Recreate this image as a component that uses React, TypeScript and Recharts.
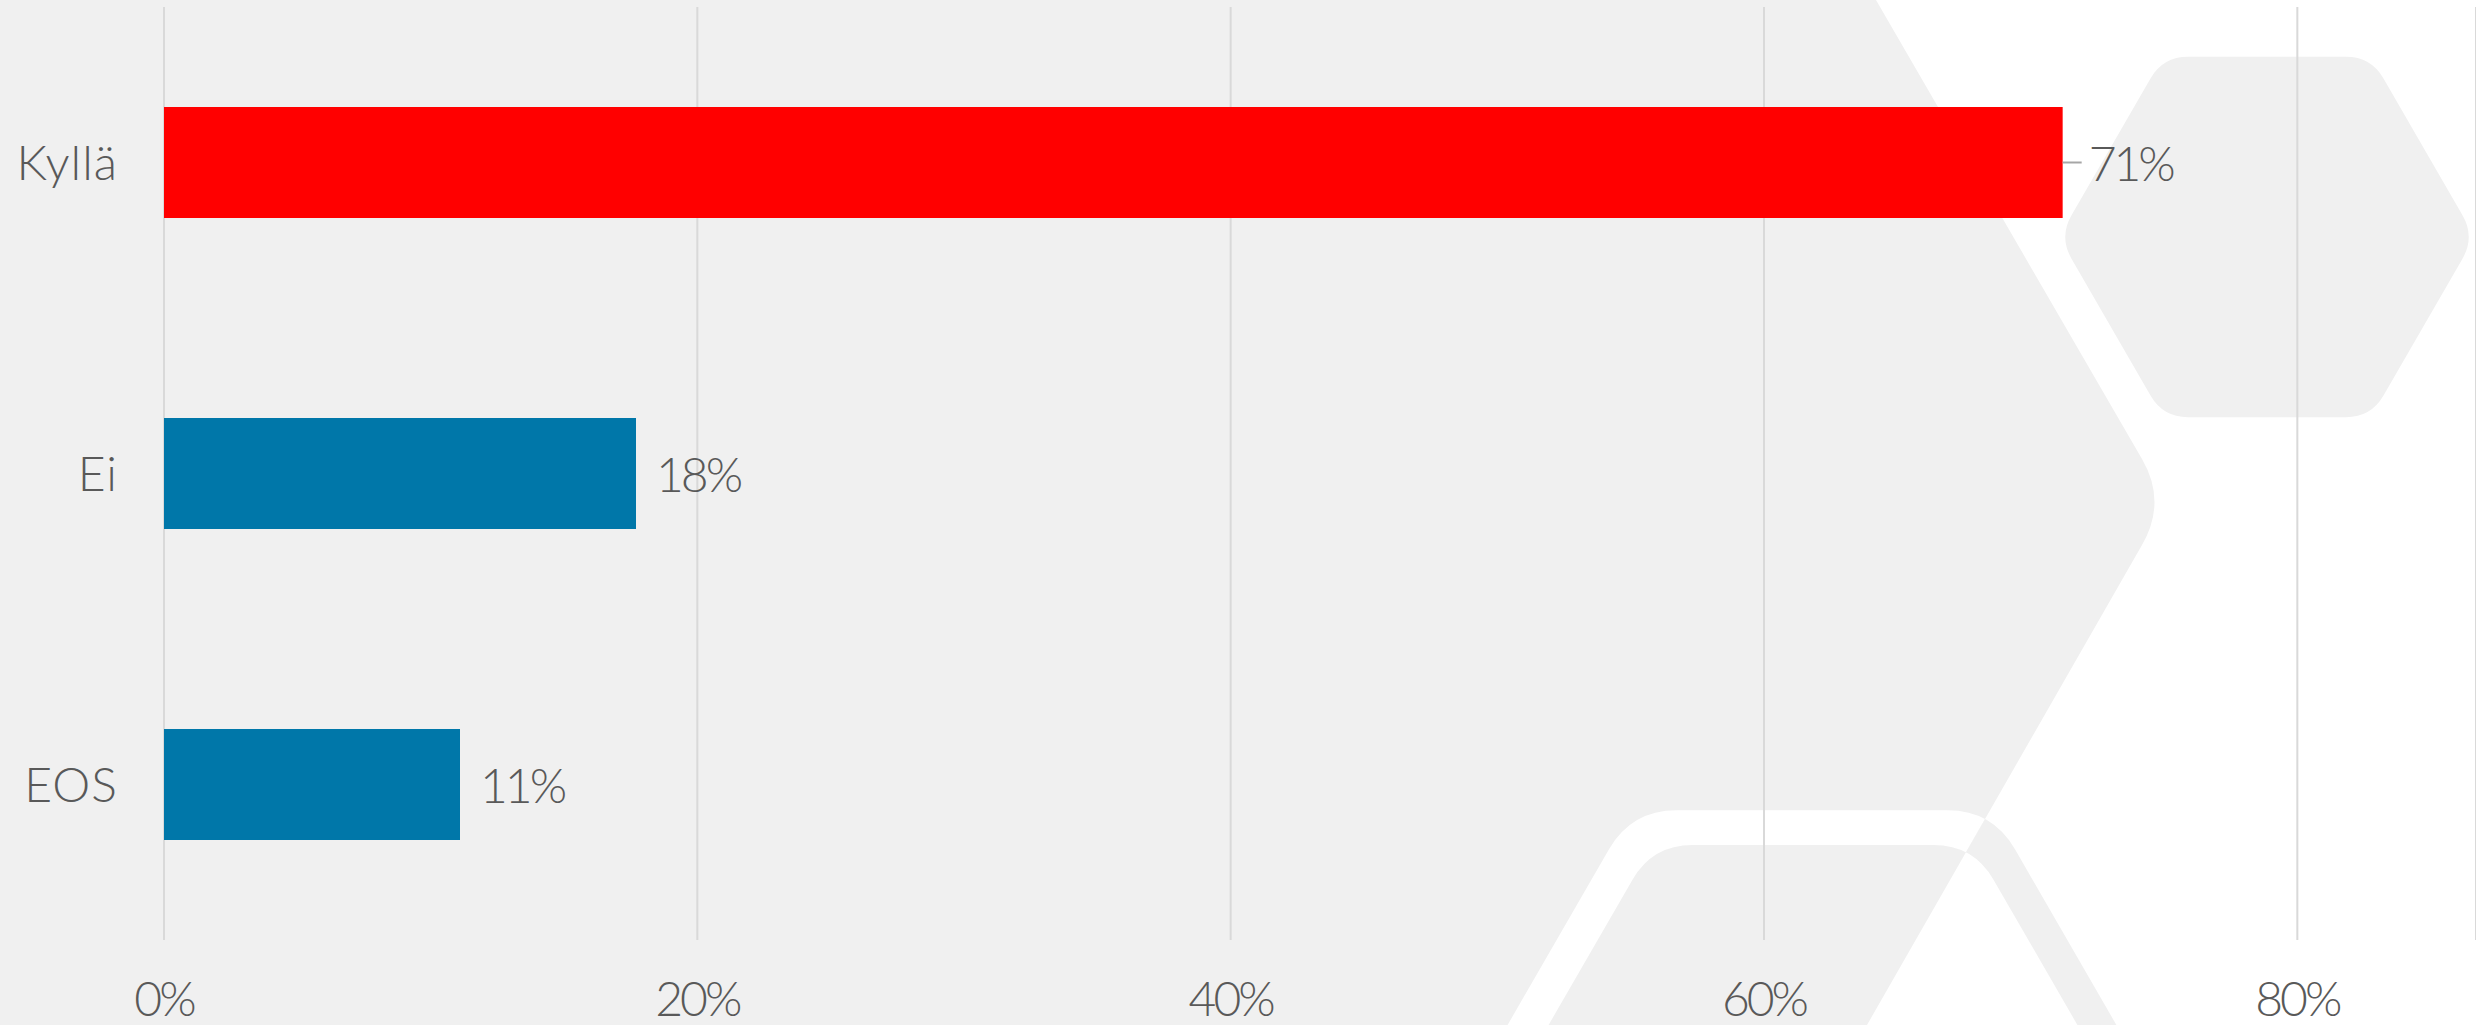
import { BarChart, Bar, XAxis, YAxis, CartesianGrid, Cell, LabelList } from "recharts";

const categories = ["Kyllä", "Ei", "EOS"];
const shares = [0.712, 0.177, 0.111];
const barColors = ["#FF0000", "#0077A9", "#0077A9"];
const xTicks = [0, 0.2, 0.4, 0.6, 0.8];

const data = categories.map((name, i) => ({ name, value: shares[i] }));

const FONT = "Lato, 'Open Sans', sans-serif";
const TEXT = "#595959";
const GRAY = "#f0f0f0";

// rounded polygon for the decorative hexagons in the background
const roundedPath = (pts: number[][], r: number) => {
  const n = pts.length;
  let d = "";
  for (let i = 0; i < n; i++) {
    const [px, py] = pts[(i - 1 + n) % n];
    const [cx, cy] = pts[i];
    const [nx, ny] = pts[(i + 1) % n];
    const l1 = Math.hypot(px - cx, py - cy);
    const l2 = Math.hypot(nx - cx, ny - cy);
    const ax = cx + ((px - cx) / l1) * r;
    const ay = cy + ((py - cy) / l1) * r;
    const bx = cx + ((nx - cx) / l2) * r;
    const by = cy + ((ny - cy) / l2) * r;
    d += `${i === 0 ? "M" : "L"}${ax} ${ay} Q${cx} ${cy} ${bx} ${by} `;
  }
  return d + "Z";
};

const hex = (cx: number, cy: number, R: number) =>
  [0, 60, 120, 180, 240, 300].map((a) => [
    cx + R * Math.cos((a * Math.PI) / 180),
    cy + R * Math.sin((a * Math.PI) / 180),
  ]);

const bigHex = "M0 0 L1876 0 L2142 459 Q2167 502 2142 545 L1867 1025 L0 1025 Z";
const outside = "M1876 0 L2142 459 Q2167 502 2142 545 L1867 1025 L2476 1025 L2476 0 Z";
const ring =
  roundedPath(hex(1812, 1123, 361), 45) + " " + roundedPath(hex(1813, 1123, 321), 40);

const Backdrop = () => (
  <svg width={2476} height={1025} style={{ position: "absolute", left: 0, top: 0 }}>
    <defs>
      <clipPath id="inBig">
        <path d={bigHex} />
      </clipPath>
      <clipPath id="outBig">
        <path d={outside} />
      </clipPath>
    </defs>
    <rect width={2476} height={1025} fill="#ffffff" />
    <path d={bigHex} fill={GRAY} />
    <path d={roundedPath(hex(2267, 237, 208), 25)} fill={GRAY} />
    <path d={ring} fill="#ffffff" fillRule="evenodd" clipPath="url(#inBig)" />
    <path d={ring} fill={GRAY} fillRule="evenodd" clipPath="url(#outBig)" />
  </svg>
);

const ValueLabel = (props: any) => {
  const { x, y, width, height, value, index } = props;
  const end = x + width;
  const mid = y + height / 2;
  const lead = index === 0;
  return (
    <g>
      {lead && <line x1={end} y1={mid} x2={end + 19} y2={mid} stroke="#a6a6a6" strokeWidth={2} />}
      <text
        x={end + (lead ? 26 : 20)}
        y={mid}
        dominantBaseline="central"
        fill={TEXT}
        fontSize={48}
        fontFamily={FONT}
        fontWeight={300}
        letterSpacing={-3}
      >
        {Math.round(value * 100)}%
      </text>
    </g>
  );
};

const xTickStyle = { fill: TEXT, fontSize: 48, fontFamily: FONT, fontWeight: 300, letterSpacing: -3 };
const yTickStyle = { fill: TEXT, fontSize: 48, fontFamily: FONT, fontWeight: 300, letterSpacing: 1 };

export default function App() {
  return (
    <div style={{ position: "absolute", left: 0, top: 0, width: 2476, height: 1025, overflow: "hidden" }}>
      <Backdrop />
      <div style={{ position: "absolute", left: 0, top: 0 }}>
        <BarChart
          layout="vertical"
          width={2476}
          height={1025}
          data={data}
          margin={{ top: 7, right: 0, bottom: 0, left: 0 }}
        >
          <CartesianGrid horizontal={false} stroke="#d9d9d9" strokeWidth={2} />
          <XAxis
            type="number"
            domain={[0, 0.867]}
            ticks={xTicks}
            tickFormatter={(v: number) => `${Math.round(v * 100)}%`}
            axisLine={false}
            tickLine={false}
            tickSize={0}
            tickMargin={42}
            height={85}
            tick={xTickStyle}
            interval={0}
          />
          <YAxis
            type="category"
            dataKey="name"
            width={164}
            axisLine={false}
            tickLine={false}
            tickSize={0}
            tickMargin={46}
            tick={yTickStyle}
          />
          <Bar dataKey="value" barSize={111} isAnimationActive={false}>
            {data.map((d, i) => (
              <Cell key={d.name} fill={barColors[i]} />
            ))}
            <LabelList dataKey="value" content={<ValueLabel />} />
          </Bar>
        </BarChart>
      </div>
    </div>
  );
}
